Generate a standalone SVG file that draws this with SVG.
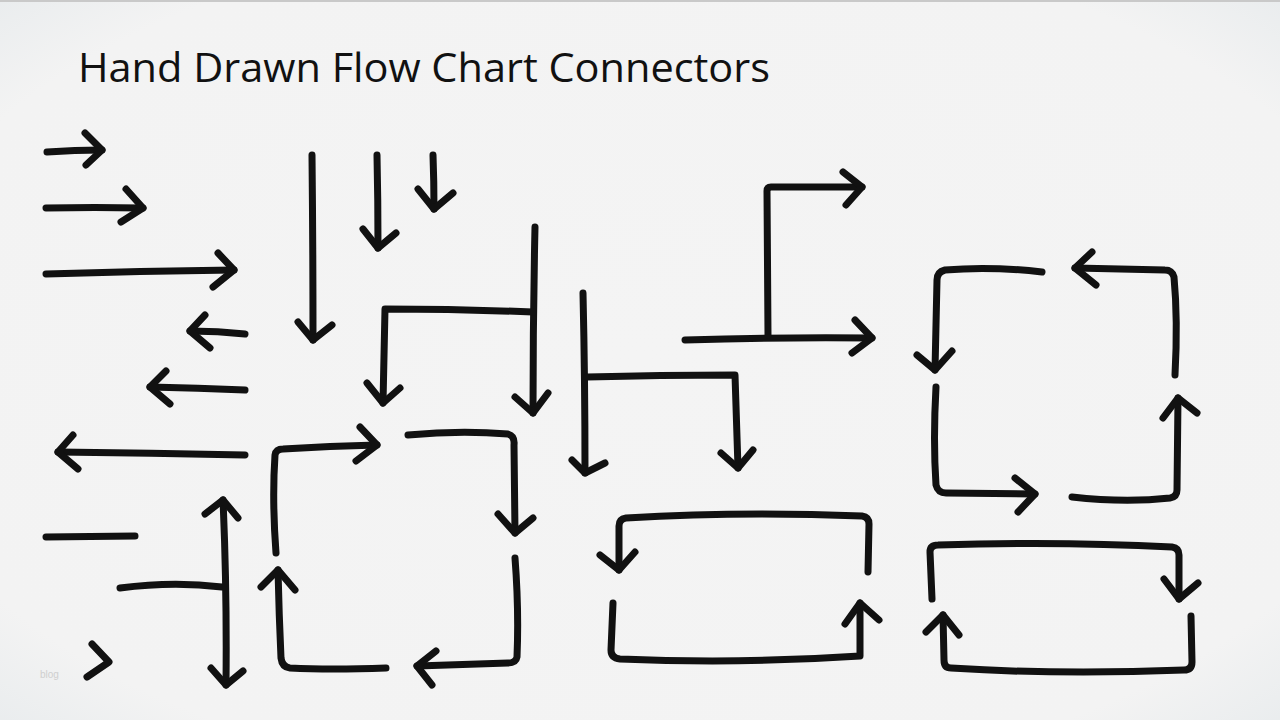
<svg xmlns="http://www.w3.org/2000/svg" width="1280" height="720" viewBox="0 0 1280 720">
<defs>
<radialGradient id="bg" cx="50%" cy="50%" r="75%">
<stop offset="0" stop-color="#f4f4f4"/>
<stop offset="0.8" stop-color="#f3f3f3"/>
<stop offset="1" stop-color="#e6eaec"/>
</radialGradient>
<style>
.s{fill:none;stroke:#111;stroke-width:7;stroke-linecap:round;stroke-linejoin:round}
.t{font-family:"Open Sans","Liberation Sans",sans-serif;fill:#111}
</style>
</defs>
<rect width="1280" height="720" fill="url(#bg)"/>
<rect x="0" y="0" width="1280" height="2" fill="#c9c9c9"/>
<text class="t" x="78" y="82" font-size="41" textLength="692" lengthAdjust="spacingAndGlyphs">Hand Drawn Flow Chart Connectors</text>
<text x="40" y="678" font-family="Liberation Sans, sans-serif" font-size="10" fill="#cfcfcf">blog</text>
<g id="connectors">
<g id="right-arrow-1" class="s"><path d="M47,152 Q75,150 102,150"/><path d="M85,133 L102,150 L86,165"/></g>
<g id="right-arrow-2" class="s"><path d="M46,208 Q95,207 143,208"/><path d="M126,189 L143,208 L121,222"/></g>
<g id="right-arrow-3" class="s"><path d="M46,274 Q140,271 234,270"/><path d="M218,253 L234,270 L213,287"/></g>
<g id="left-arrow-1" class="s"><path d="M245,334 Q218,331 190,331"/><path d="M205,315 L190,331 L210,348"/></g>
<g id="left-arrow-2" class="s"><path d="M245,390 Q198,388 150,387"/><path d="M166,371 L150,387 L170,404"/></g>
<g id="left-arrow-3" class="s"><path d="M245,455 Q150,453 58,452"/><path d="M73,435 L58,452 L78,469"/></g>
<g id="plain-line" class="s"><path d="M46,537 L135,536"/></g>
<g id="t-double-arrow" class="s"><path d="M120,588 Q173,581 222,587"/><path d="M223,500 Q227,590 226,685"/><path d="M205,514 L223,500 L238,518"/><path d="M211,668 L226,685 L243,671"/></g>
<g id="chevron" class="s"><path d="M92,644 L109,662 L87,677"/></g>
<g id="down-arrow-1" class="s"><path d="M312,155 Q313,250 313,340"/><path d="M298,322 L313,340 L332,325"/></g>
<g id="down-arrow-2" class="s"><path d="M377,155 Q378,200 378,248"/><path d="M363,229 L378,248 L396,233"/></g>
<g id="down-arrow-3" class="s"><path d="M433,155 Q434,182 434,209"/><path d="M418,189 L434,209 L453,193"/></g>
<g id="branch-left" class="s"><path d="M535,227 Q533,320 533,413"/><path d="M533,312 Q460,309 385,309 L383,403"/><path d="M367,383 L383,403 L400,388"/><path d="M515,397 L533,413 L548,393"/></g>
<g id="branch-right" class="s"><path d="M583,293 Q585,380 585,473"/><path d="M587,377 Q660,375 735,375 L738,468"/><path d="M572,460 L585,473 L605,463"/><path d="M721,453 L738,468 L753,450"/></g>
<g id="step-arrows" class="s"><path d="M685,340 Q780,337 872,338"/><path d="M855,320 L872,338 L852,353"/><path d="M768,335 L767,191 Q767,187 771,187 L862,187"/><path d="M843,172 L862,187 L846,205"/></g>
<g id="loop-middle" class="s">
<path d="M276,553 Q272,500 275,455 Q276,449 283,449 Q330,446 377,445"/><path d="M360,427 L377,445 L356,461"/>
<path d="M408,435 Q460,430 508,434 Q515,436 514,445 L515,533"/><path d="M498,514 L515,533 L533,518"/>
<path d="M515,558 Q519,610 517,657 Q516,663 508,663 L417,666"/><path d="M436,651 L417,666 L432,685"/>
<path d="M386,668 Q330,670 290,668 Q282,667 281,658 Q279,615 278,570"/><path d="M261,587 L278,570 L295,590"/>
</g>
<g id="loop-right" class="s">
<path d="M1042,272 Q990,266 945,270 Q937,272 937,280 L935,370"/><path d="M917,355 L935,370 L952,351"/>
<path d="M1175,375 Q1178,320 1174,277 Q1172,270 1165,270 L1075,268"/><path d="M1092,252 L1075,268 L1096,285"/>
<path d="M936,387 Q933,440 936,485 Q938,493 946,493 L1035,494"/><path d="M1015,478 L1035,494 L1018,512"/>
<path d="M1072,497 Q1125,503 1170,498 Q1177,497 1177,490 L1178,398"/><path d="M1163,418 L1178,398 L1197,413"/>
</g>
<g id="rect-loop-left" class="s">
<path d="M868,572 L869,524 Q869,517 862,516 Q740,511 626,518 Q619,519 619,526 L619,570"/><path d="M600,555 L619,570 L635,552"/>
<path d="M613,603 L611,650 Q611,658 620,659 Q740,664 860,656 L860,603"/><path d="M845,624 L860,603 L879,620"/>
</g>
<g id="rect-loop-right" class="s">
<path d="M932,599 L930,552 Q930,545 938,545 Q1060,541 1172,547 Q1179,548 1179,555 L1179,599"/><path d="M1164,579 L1179,599 L1198,583"/>
<path d="M1191,616 L1192,662 Q1192,670 1184,670 Q1060,675 951,668 Q944,668 944,660 L943,615"/><path d="M926,632 L943,615 L959,635"/>
</g>
</g>
</svg>
